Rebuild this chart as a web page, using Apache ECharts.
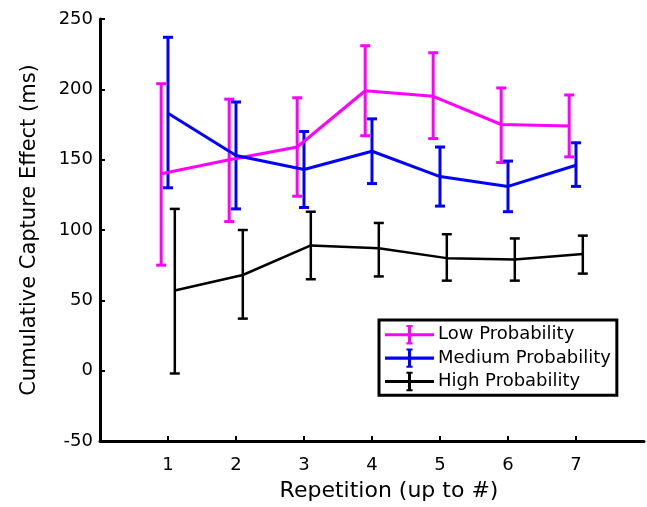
<!DOCTYPE html>
<html>
<head>
<meta charset="utf-8">
<script src="https://cdn.jsdelivr.net/npm/echarts@6/dist/echarts.min.js"></script>
<style>
  html, body { margin: 0; padding: 0; background: #fff; }
  #chart { width: 647px; height: 507px; }
</style>
</head>
<body>
<div id="chart"></div>
<script>
// repetitions (x), each group shifted a little so the bars don't overlap
const reps = [1, 2, 3, 4, 5, 6, 7];
const shift = { low: -0.1, medium: 0, high: 0.1 };

// Low probability
const lowMean  = [140, 150, 159, 199, 195, 175, 174];
const lowUpper = [204, 193, 194, 231, 226, 201, 196];
const lowLower = [75, 106, 124, 167, 165, 148, 152];

// Medium probability
const medMean  = [183, 153, 143, 156, 138, 131, 146];
const medUpper = [237, 191, 170, 179, 159, 149, 162];
const medLower = [130, 115, 116, 133, 117, 113, 131];

// High probability
const highMean  = [57, 68, 89, 87, 80, 79, 83];
const highUpper = [115, 100, 113, 105, 97, 94, 96];
const highLower = [-2, 37, 65, 67, 64, 64, 69];

const yTicks = [-50, 0, 50, 100, 150, 200, 250];

const myChart = echarts.init(document.getElementById('chart'));

const lineData = (mean, dx) => reps.map((r, i) => [r + dx, mean[i]]);
const barData = (lo, hi, dx) => reps.map((r, i) => [r + dx, lo[i], hi[i]]);

// error bar: vertical stroke with caps
const errorBars = (name, color, width, data) => ({
  name: name + ' err',
  type: 'custom',
  data: data,
  z: 3,
  renderItem: function (params, api) {
    const x = api.value(0);
    const lo = api.coord([x, api.value(1)]);
    const hi = api.coord([x, api.value(2)]);
    const cap = 5;
    const style = { stroke: color, lineWidth: width };
    return {
      type: 'group',
      children: [
        { type: 'line', shape: { x1: lo[0], y1: lo[1], x2: hi[0], y2: hi[1] }, style: style },
        { type: 'line', shape: { x1: lo[0] - cap, y1: lo[1], x2: lo[0] + cap, y2: lo[1] }, style: style },
        { type: 'line', shape: { x1: hi[0] - cap, y1: hi[1], x2: hi[0] + cap, y2: hi[1] }, style: style }
      ]
    };
  },
  silent: true
});

const meanLine = (name, color, width, data) => ({
  name: name,
  type: 'line',
  data: data,
  symbol: 'none',
  lineStyle: { color: color, width: width },
  itemStyle: { color: color },
  z: 4
});

// legend icon: line with a small error bar in the middle
const legendIcon = 'path://M0 9H48V12H0Z M21 1H27V3H25.5V18H27V20H21V18H22.5V3H21Z';

const font = 'DejaVu Sans';

const option = {
  animation: false,
  grid: { left: 100, right: 3, top: 19, bottom: 64 },
  xAxis: {
    type: 'value',
    min: 0,
    max: 8,
    interval: 1,
    name: 'Repetition (up to #)',
    nameLocation: 'middle',
    nameGap: 39,
    // original axis ran past the crop, so its label sits a bit right of centre
    nameTextStyle: { fontFamily: font, fontSize: 22, color: '#000', padding: [0, 0, 0, 34] },
    axisLine: { onZero: false, lineStyle: { color: '#000', width: 3 } },
    axisTick: { inside: true, length: 5, customValues: reps, lineStyle: { color: '#000', width: 2 } },
    axisLabel: {
      fontFamily: font, fontSize: 18, color: '#000', margin: 15, customValues: reps,
      formatter: function (v) { return reps.indexOf(v) >= 0 ? String(v) : ''; }
    },
    splitLine: { show: false }
  },
  yAxis: {
    type: 'value',
    min: yTicks[0],
    max: yTicks[yTicks.length - 1],
    interval: 50,
    name: 'Cumulative Capture Effect (ms)',
    nameLocation: 'middle',
    nameGap: 60,
    nameTextStyle: { fontFamily: font, fontSize: 21, color: '#000' },
    axisLine: { show: true, onZero: false, lineStyle: { color: '#000', width: 3 } },
    axisTick: { show: true, inside: true, length: 5, lineStyle: { color: '#000', width: 2 } },
    axisLabel: { fontFamily: font, fontSize: 18, color: '#000', margin: 7 },
    splitLine: { show: false }
  },
  legend: {
    data: ['Low Probability', 'Medium Probability', 'High Probability'],
    orient: 'vertical',
    left: 379,
    top: 320,
    padding: [5, 6, 4, 6],
    itemWidth: 49,
    itemHeight: 20,
    itemGap: 4,
    icon: legendIcon,
    borderColor: '#000',
    borderWidth: 3,
    backgroundColor: '#fff',
    textStyle: { fontFamily: font, fontSize: 18, color: '#000', padding: [0, 0, 0, -1] }
  },
  series: [
    errorBars('Low Probability', '#ff00ff', 3, barData(lowLower, lowUpper, shift.low)),
    errorBars('Medium Probability', '#0000ff', 3, barData(medLower, medUpper, shift.medium)),
    errorBars('High Probability', '#000000', 2.5, barData(highLower, highUpper, shift.high)),
    meanLine('Low Probability', '#ff00ff', 3, lineData(lowMean, shift.low)),
    meanLine('Medium Probability', '#0000ff', 3, lineData(medMean, shift.medium)),
    meanLine('High Probability', '#000000', 2.5, lineData(highMean, shift.high))
  ]
};

myChart.setOption(option);
</script>
</body>
</html>
